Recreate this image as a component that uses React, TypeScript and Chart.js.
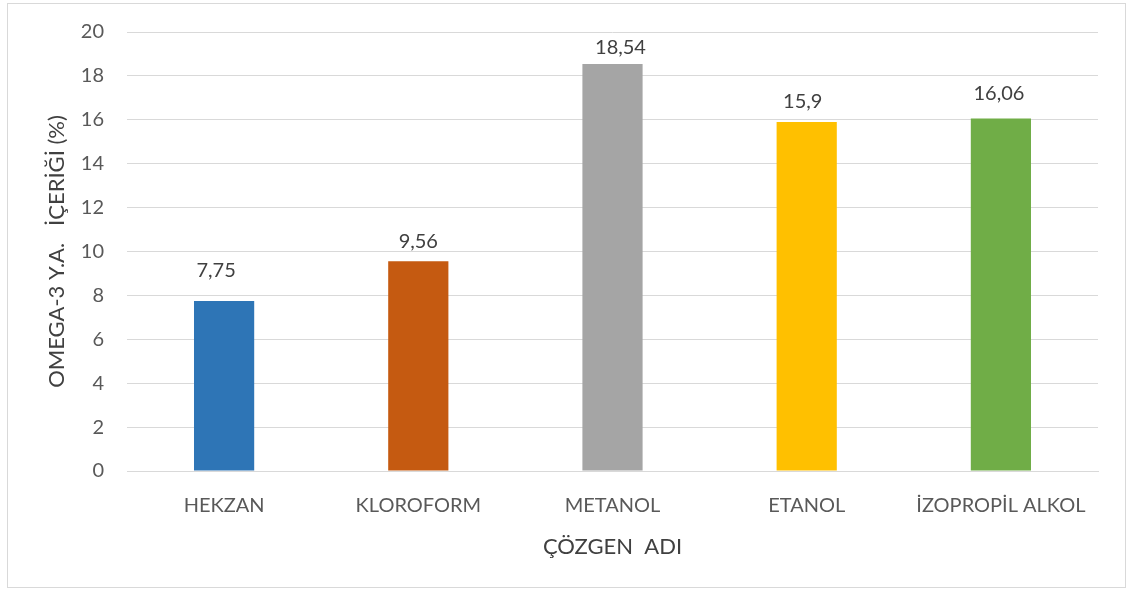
import React, { useEffect, useRef } from "react";
import { Chart, registerables } from "chart.js";

Chart.register(...registerables);

const categories = ["HEKZAN", "KLOROFORM", "METANOL", "ETANOL", "İZOPROPİL ALKOL"];
const values = [7.75, 9.56, 18.54, 15.9, 16.06];
const valueLabels = ["7,75", "9,56", "18,54", "15,9", "16,06"];
const barColors = ["#2E75B6", "#C55A11", "#A5A5A5", "#FFC000", "#70AD47"];
const yTicks = [0, 2, 4, 6, 8, 10, 12, 14, 16, 18, 20];
const yTitle = "OMEGA-3 Y.A.   İÇERİĞİ (%)";
const xTitle = "ÇÖZGEN  ADI";

const FONT = "Lato, 'Open Sans', sans-serif";

// label nudges (px) relative to the bar top-centre, as placed in the original
const labelDx = [-8, 0, 8, -4, -2];
const labelGap = [24, 13, 10, 14, 18];

const dataLabelPlugin = {
  id: "dataLabels",
  afterDatasetsDraw(chart: any) {
    const ctx = chart.ctx;
    const meta = chart.getDatasetMeta(0);
    ctx.save();
    ctx.font = `20px ${FONT}`;
    ctx.fillStyle = "#404040";
    ctx.textAlign = "center";
    ctx.textBaseline = "alphabetic";
    meta.data.forEach((bar: any, i: number) => {
      ctx.fillText(valueLabels[i], bar.x + labelDx[i], bar.y - labelGap[i]);
    });
    ctx.restore();
  },
};

export default function App() {
  const ref = useRef<HTMLCanvasElement>(null);
  useEffect(() => {
    if (!ref.current) return;
    const chart = new Chart(ref.current, {
      type: "bar",
      data: {
        labels: categories,
        datasets: [
          {
            data: values,
            backgroundColor: barColors,
            barPercentage: 0.31,
            categoryPercentage: 1,
          },
        ],
      },
      options: {
        animation: false,
        responsive: false,
        maintainAspectRatio: false,
        layout: { padding: { left: 40, top: 32, right: 31, bottom: 20 } },
        plugins: { legend: { display: false }, tooltip: { enabled: false } },
        scales: {
          x: {
            grid: { display: false, drawTicks: false },
            border: { display: true, color: "#D9D9D9", width: 1 },
            ticks: { color: "#595959", font: { family: FONT, size: 20 }, padding: 23 },
            title: {
              display: true,
              text: xTitle,
              color: "#404040",
              font: { family: FONT, size: 22 },
              padding: { top: 0, bottom: 10 },
            },
            afterFit: (s: any) => {
              s.height = 99;
              s.paddingLeft = 0;
              s.paddingRight = 0;
            },
          },
          y: {
            min: 0,
            max: 20,
            afterBuildTicks: (s: any) => {
              s.ticks = yTicks.map((v) => ({ value: v }));
            },
            grid: { color: "#D9D9D9", lineWidth: 1, drawTicks: false },
            border: { display: false },
            ticks: { color: "#595959", font: { family: FONT, size: 20 }, padding: 23 },
            title: {
              display: true,
              text: yTitle,
              color: "#404040",
              font: { family: FONT, size: 22 },
              padding: { top: 4, bottom: 0 },
            },
            afterFit: (s: any) => {
              s.width = 87;
              s.paddingTop = 0;
              s.paddingBottom = 0;
            },
          },
        },
      },
      plugins: [dataLabelPlugin],
    });
    return () => chart.destroy();
  }, []);
  return (
    <div style={{ position: "absolute", left: 0, top: 0, width: 1129, height: 590, background: "#fff" }}>
      <canvas ref={ref} width={1129} height={590} style={{ position: "absolute", left: 0, top: 0 }} />
      <div
        style={{
          position: "absolute",
          left: 7,
          top: 3,
          width: 1117,
          height: 583,
          border: "1px solid #D9D9D9",
          pointerEvents: "none",
        }}
      />
    </div>
  );
}
